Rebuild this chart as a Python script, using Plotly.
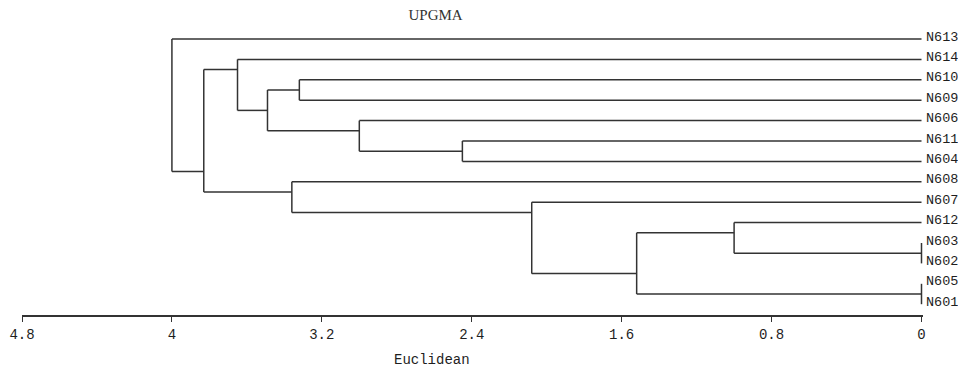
import plotly.graph_objects as go

# ---- data ----
leaves = ["N613", "N614", "N610", "N609", "N606", "N611", "N604",
          "N608", "N607", "N612", "N603", "N602", "N605", "N601"]

# UPGMA merges: (name, left child, right child, distance)
merge_names = ["A", "B", "C", "D", "E", "F", "G", "H", "I", "J", "K", "L", "M"]
merge_left = ["N603", "N605", "N612", "C", "N607", "N608", "N611", "N606", "N610", "I", "N614", "K", "N613"]
merge_right = ["N602", "N601", "A", "B", "D", "E", "N604", "G", "N609", "H", "J", "F", "L"]
merge_height = [0.0, 0.0, 1.0, 1.52, 2.08, 3.36, 2.45, 3.0, 3.32, 3.49, 3.65, 3.83, 4.0]

tick_vals = [4.8, 4.0, 3.2, 2.4, 1.6, 0.8, 0.0]
tick_text = ["4.8", "4", "3.2", "2.4", "1.6", "0.8", "0"]

# ---- build dendrogram geometry from the tree ----
ypos = {name: i for i, name in enumerate(leaves)}
height = {name: 0.0 for name in leaves}
first_leaf = {name: ypos[name] for name in leaves}
last_leaf = {name: ypos[name] for name in leaves}

xs, ys = [], []
for name, l, r, h in zip(merge_names, merge_left, merge_right, merge_height):
    yl, yr = ypos[l], ypos[r]
    # horizontal branches from children up to this merge
    xs += [height[l], h, None, height[r], h, None]
    ys += [yl, yl, None, yr, yr, None]
    # vertical connector
    xs += [h, h, None]
    ys += [yl, yr, None]
    ypos[name] = (last_leaf[l] + first_leaf[r]) / 2.0
    height[name] = h
    first_leaf[name] = first_leaf[l]
    last_leaf[name] = last_leaf[r]

line_color = "#333333"
text_color = "#1e1e1e"
mono = "Liberation Mono, DejaVu Sans Mono, monospace"

fig = go.Figure()
fig.add_trace(go.Scatter(x=xs, y=ys, mode="lines",
                         line=dict(color=line_color, width=1.5),
                         hoverinfo="skip", showlegend=False))

for name in leaves:
    fig.add_annotation(x=0, y=ypos[name], xref="x", yref="y", text=name,
                       showarrow=False, xanchor="left", yanchor="middle",
                       xshift=2, yshift=2,
                       font=dict(family=mono, size=13.5, color=text_color))

fig.add_annotation(x=0.455, y=-0.193, xref="paper", yref="paper",
                   text="Euclidean", showarrow=False,
                   xanchor="center", yanchor="bottom",
                   font=dict(family=mono, size=14, color=text_color))

fig.update_layout(
    width=950, height=363,
    margin=dict(l=14, r=35, t=22, b=56, autoexpand=False),
    paper_bgcolor="white", plot_bgcolor="white",
    title=dict(text="UPGMA", x=0.459, xref="paper", xanchor="center",
               y=1 - 7 / 363, yref="container", yanchor="middle",
               font=dict(family="Liberation Serif, serif", size=15, color="#333333")),
    xaxis=dict(range=[4.8, -0.008], showgrid=False, zeroline=False,
               automargin=False,
               showline=True, linecolor=line_color, linewidth=1.5,
               ticks="outside", ticklen=5, tickwidth=1.2, tickcolor=line_color,
               tickvals=tick_vals, ticktext=tick_text,
               tickfont=dict(family=mono, size=14, color=text_color)),
    yaxis=dict(range=[(315 - 39) / 20.4, (30 - 39) / 20.4], visible=False,
               automargin=False, showgrid=False, zeroline=False),
)

fig.write_html("out.html")
